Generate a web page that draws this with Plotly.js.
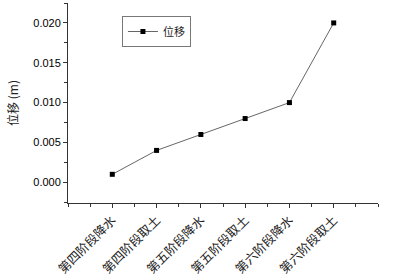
<!DOCTYPE html>
<html><head><meta charset="utf-8">
<script src="https://cdn.plot.ly/plotly-3.0.1.min.js"></script>
<style>body{margin:0;background:#fff}#c{width:394px;height:276px}</style>
</head><body><div id="c"></div>
<script>
const categories = ["第四阶段降水","第四阶段取土","第五阶段降水","第五阶段取土","第六阶段降水","第六阶段取土"];
const displacement = [0.001, 0.004, 0.006, 0.008, 0.010, 0.020];
const seriesName = "位移";
const yTitle = "位移 (m)";

const xIdx = categories.map((c, i) => i);
const trace = {
  x: xIdx, y: displacement, name: seriesName, type: "scatter", mode: "lines+markers",
  line: {color: "#666", width: 1},
  marker: {symbol: "square", size: 5, color: "#000"}
};
const layout = {
  width: 394, height: 276,
  margin: {l: 68, r: 16, t: 3, b: 73},
  paper_bgcolor: "#fff", plot_bgcolor: "#fff",
  showlegend: true,
  legend: {x: 0.174, y: 0.935, xanchor: "left", yanchor: "top", bordercolor: "#777", borderwidth: 1,
    font: {family: "Noto Sans CJK SC", size: 11, color: "#222"}, bgcolor: "#fff", itemwidth: 30, tracegroupgap: 0},
  xaxis: {
    range: [-1, 6], tickvals: xIdx, ticktext: categories, tickangle: -45,
    showgrid: false, zeroline: false, showline: true, linecolor: "#333", linewidth: 1,
    ticks: "outside", ticklen: 4, tickcolor: "#333",
    minor: {dtick: 0.5, tick0: 0, ticks: "outside", ticklen: 3, tickcolor: "#333", showgrid: false},
    tickfont: {family: "Noto Sans CJK SC", size: 12.5, color: "#222"}
  },
  yaxis: {
    range: [-0.0026, 0.0225], dtick: 0.005, tick0: 0, tickformat: ".3f",
    showgrid: false, zeroline: false, showline: true, linecolor: "#333", linewidth: 1,
    ticks: "outside", ticklen: 4, tickcolor: "#333",
    minor: {dtick: 0.0025, ticks: "outside", ticklen: 3, tickcolor: "#333", showgrid: false},
    tickfont: {family: "Liberation Sans", size: 11, color: "#000"},
    title: {text: yTitle, font: {family: "Noto Sans CJK SC", size: 12, color: "#222"}, standoff: 12}
  }
};
Plotly.newPlot("c", [trace], layout, {displayModeBar: false, staticPlot: true});
</script></body></html>
